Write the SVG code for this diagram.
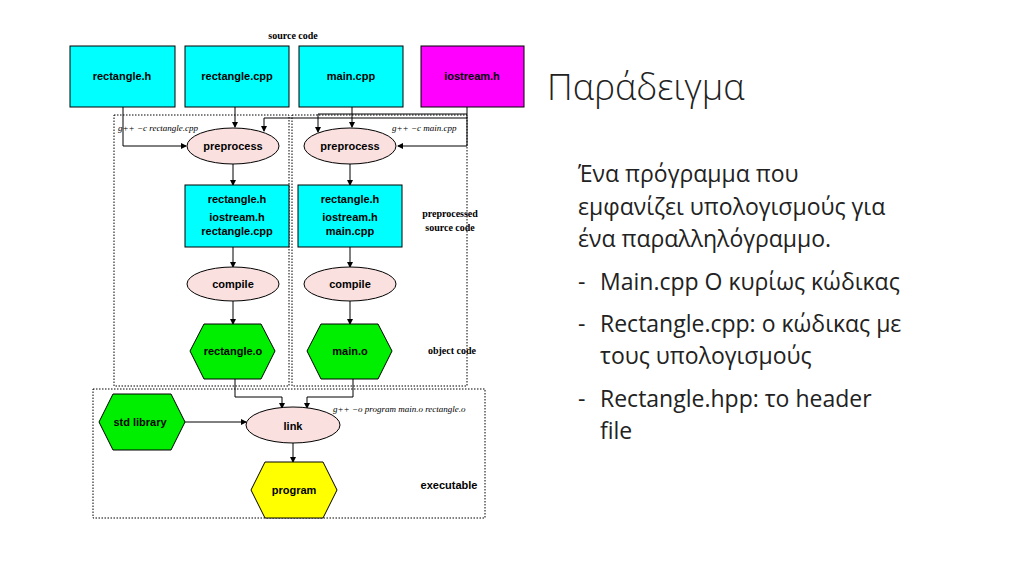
<svg xmlns="http://www.w3.org/2000/svg" width="1024" height="576" viewBox="0 0 1024 576">
<style>
.b{font-family:"Liberation Sans",Arial,sans-serif;font-weight:bold;font-size:11px;text-anchor:middle}
.s{font-family:"Liberation Serif",serif;font-size:10px;font-weight:bold}
.i{font-family:"Liberation Serif",serif;font-size:9px;font-style:italic}
.g{font-family:"Open Sans","Noto Sans",sans-serif;font-size:23px;fill:#222}
.box{stroke:#000;stroke-width:1}
.dot{fill:none;stroke:#000;stroke-dasharray:1.5 1.5;stroke-width:1}
.e{fill:#fbe0e0;stroke:#000}
.c line,.c polyline{fill:none;stroke:#000;stroke-width:1;marker-end:url(#a)}
</style>
<defs><marker id="a" markerWidth="6" markerHeight="6" refX="5" refY="3" orient="auto" markerUnits="userSpaceOnUse"><path d="M0,0L6,3L0,6z"/></marker></defs>
<rect width="1024" height="576" fill="#fff"/>
<rect class="dot" x="114" y="115" width="175" height="271"/>
<rect class="dot" x="292" y="115" width="175" height="271"/>
<rect class="dot" x="93" y="389" width="392" height="129"/>
<text class="s" x="293" y="39" text-anchor="middle">source code</text>
<text class="i" x="118" y="131">g++ −c rectangle.cpp</text>
<text class="i" x="392" y="131">g++ −c main.cpp</text>
<text class="s" x="450" y="217" text-anchor="middle" font-weight="normal">preprocessed</text>
<text class="s" x="450" y="231" text-anchor="middle" font-weight="normal">source code</text>
<text class="s" x="452" y="354" text-anchor="middle">object code</text>
<text class="i" x="333" y="412">g++ −o program main.o rectangle.o</text>
<text class="b" x="449" y="489">executable</text>
<g class="c">
<polyline points="123,107 123,146 186,146"/>
<line x1="235" y1="107" x2="235" y2="127"/>
<line x1="352" y1="107" x2="352" y2="127"/>
<polyline points="467,107 467,146 398,146"/>
<polyline points="467,114 318,114 318,132"/>
<polyline points="467,118 264,118 264,131"/>
<line x1="233" y1="164" x2="233" y2="185"/>
<line x1="350" y1="164" x2="350" y2="185"/>
<line x1="233" y1="247" x2="233" y2="267"/>
<line x1="350" y1="247" x2="350" y2="267"/>
<line x1="233" y1="301" x2="233" y2="324"/>
<line x1="350" y1="301" x2="350" y2="324"/>
<polyline points="235,379 235,397 282,397 282,408"/>
<polyline points="353,379 353,397 307,397 307,408"/>
<line x1="185" y1="422" x2="246" y2="422"/>
<line x1="293" y1="443" x2="293" y2="462"/>
</g>
<g id="n1"><rect class="box" x="70" y="46" width="105" height="61" fill="#00ffff"/><text class="b" x="122" y="80">rectangle.h</text></g>
<g id="n2"><rect class="box" x="185" y="46" width="104" height="61" fill="#00ffff"/><text class="b" x="237" y="80">rectangle.cpp</text></g>
<g id="n3"><rect class="box" x="299" y="46" width="104" height="61" fill="#00ffff"/><text class="b" x="351" y="80">main.cpp</text></g>
<g id="n4"><rect class="box" x="421" y="46" width="103" height="61" fill="#ff00ff"/><text class="b" x="472" y="80">iostream.h</text></g>
<g id="p1"><ellipse class="e" cx="233" cy="146" rx="46" ry="18"/><text class="b" x="233" y="150">preprocess</text></g>
<g id="p2"><ellipse class="e" cx="350" cy="146" rx="46" ry="18"/><text class="b" x="350" y="150">preprocess</text></g>
<g id="s1"><rect class="box" x="185" y="185" width="104" height="62" fill="#00ffff"/><text class="b" x="237" y="203">rectangle.h</text><text class="b" x="237" y="221">iostream.h</text><text class="b" x="237" y="235">rectangle.cpp</text></g>
<g id="s2"><rect class="box" x="298" y="185" width="104" height="62" fill="#00ffff"/><text class="b" x="350" y="203">rectangle.h</text><text class="b" x="350" y="221">iostream.h</text><text class="b" x="350" y="235">main.cpp</text></g>
<g id="c1"><ellipse class="e" cx="233" cy="284" rx="46" ry="17"/><text class="b" x="233" y="288">compile</text></g>
<g id="c2"><ellipse class="e" cx="350" cy="284" rx="46" ry="17"/><text class="b" x="350" y="288">compile</text></g>
<g id="o1"><polygon class="box" fill="#00ee00" points="190,351 204,324 261,324 275,351 261,379 204,379"/><text class="b" x="233" y="355">rectangle.o</text></g>
<g id="o2"><polygon class="box" fill="#00ee00" points="307,351 321,324 378,324 392,351 378,379 321,379"/><text class="b" x="350" y="355">main.o</text></g>
<g id="lib"><polygon class="box" fill="#00ee00" points="99,422 113,394 171,394 185,422 171,450 113,450"/><text class="b" x="140" y="426">std library</text></g>
<g id="link"><ellipse class="e" cx="293" cy="425" rx="47" ry="18"/><text class="b" x="293" y="430">link</text></g>
<g id="prog"><polygon class="box" fill="#ffff00" points="251,490 265,462 323,462 337,490 323,518 265,518"/><text class="b" x="294" y="494">program</text></g>
<text x="547" y="100" font-family="'Open Sans','Noto Sans',sans-serif" font-weight="300" font-size="36" fill="#222">Παράδειγμα</text>
<text class="g" x="578" y="182">Ένα πρόγραμμα που</text>
<text class="g" x="578" y="215">εμφανίζει υπολογισμούς για</text>
<text class="g" x="578" y="247">ένα παραλληλόγραμμο.</text>
<text class="g" x="578" y="290">-</text><text class="g" x="600" y="290">Main.cpp Ο κυρίως κώδικας</text>
<text class="g" x="578" y="332">-</text><text class="g" x="600" y="332">Rectangle.cpp: ο κώδικας με</text>
<text class="g" x="600" y="364">τους υπολογισμούς</text>
<text class="g" x="578" y="407">-</text><text class="g" x="600" y="407">Rectangle.hpp: το header</text>
<text class="g" x="600" y="439">file</text>
</svg>
